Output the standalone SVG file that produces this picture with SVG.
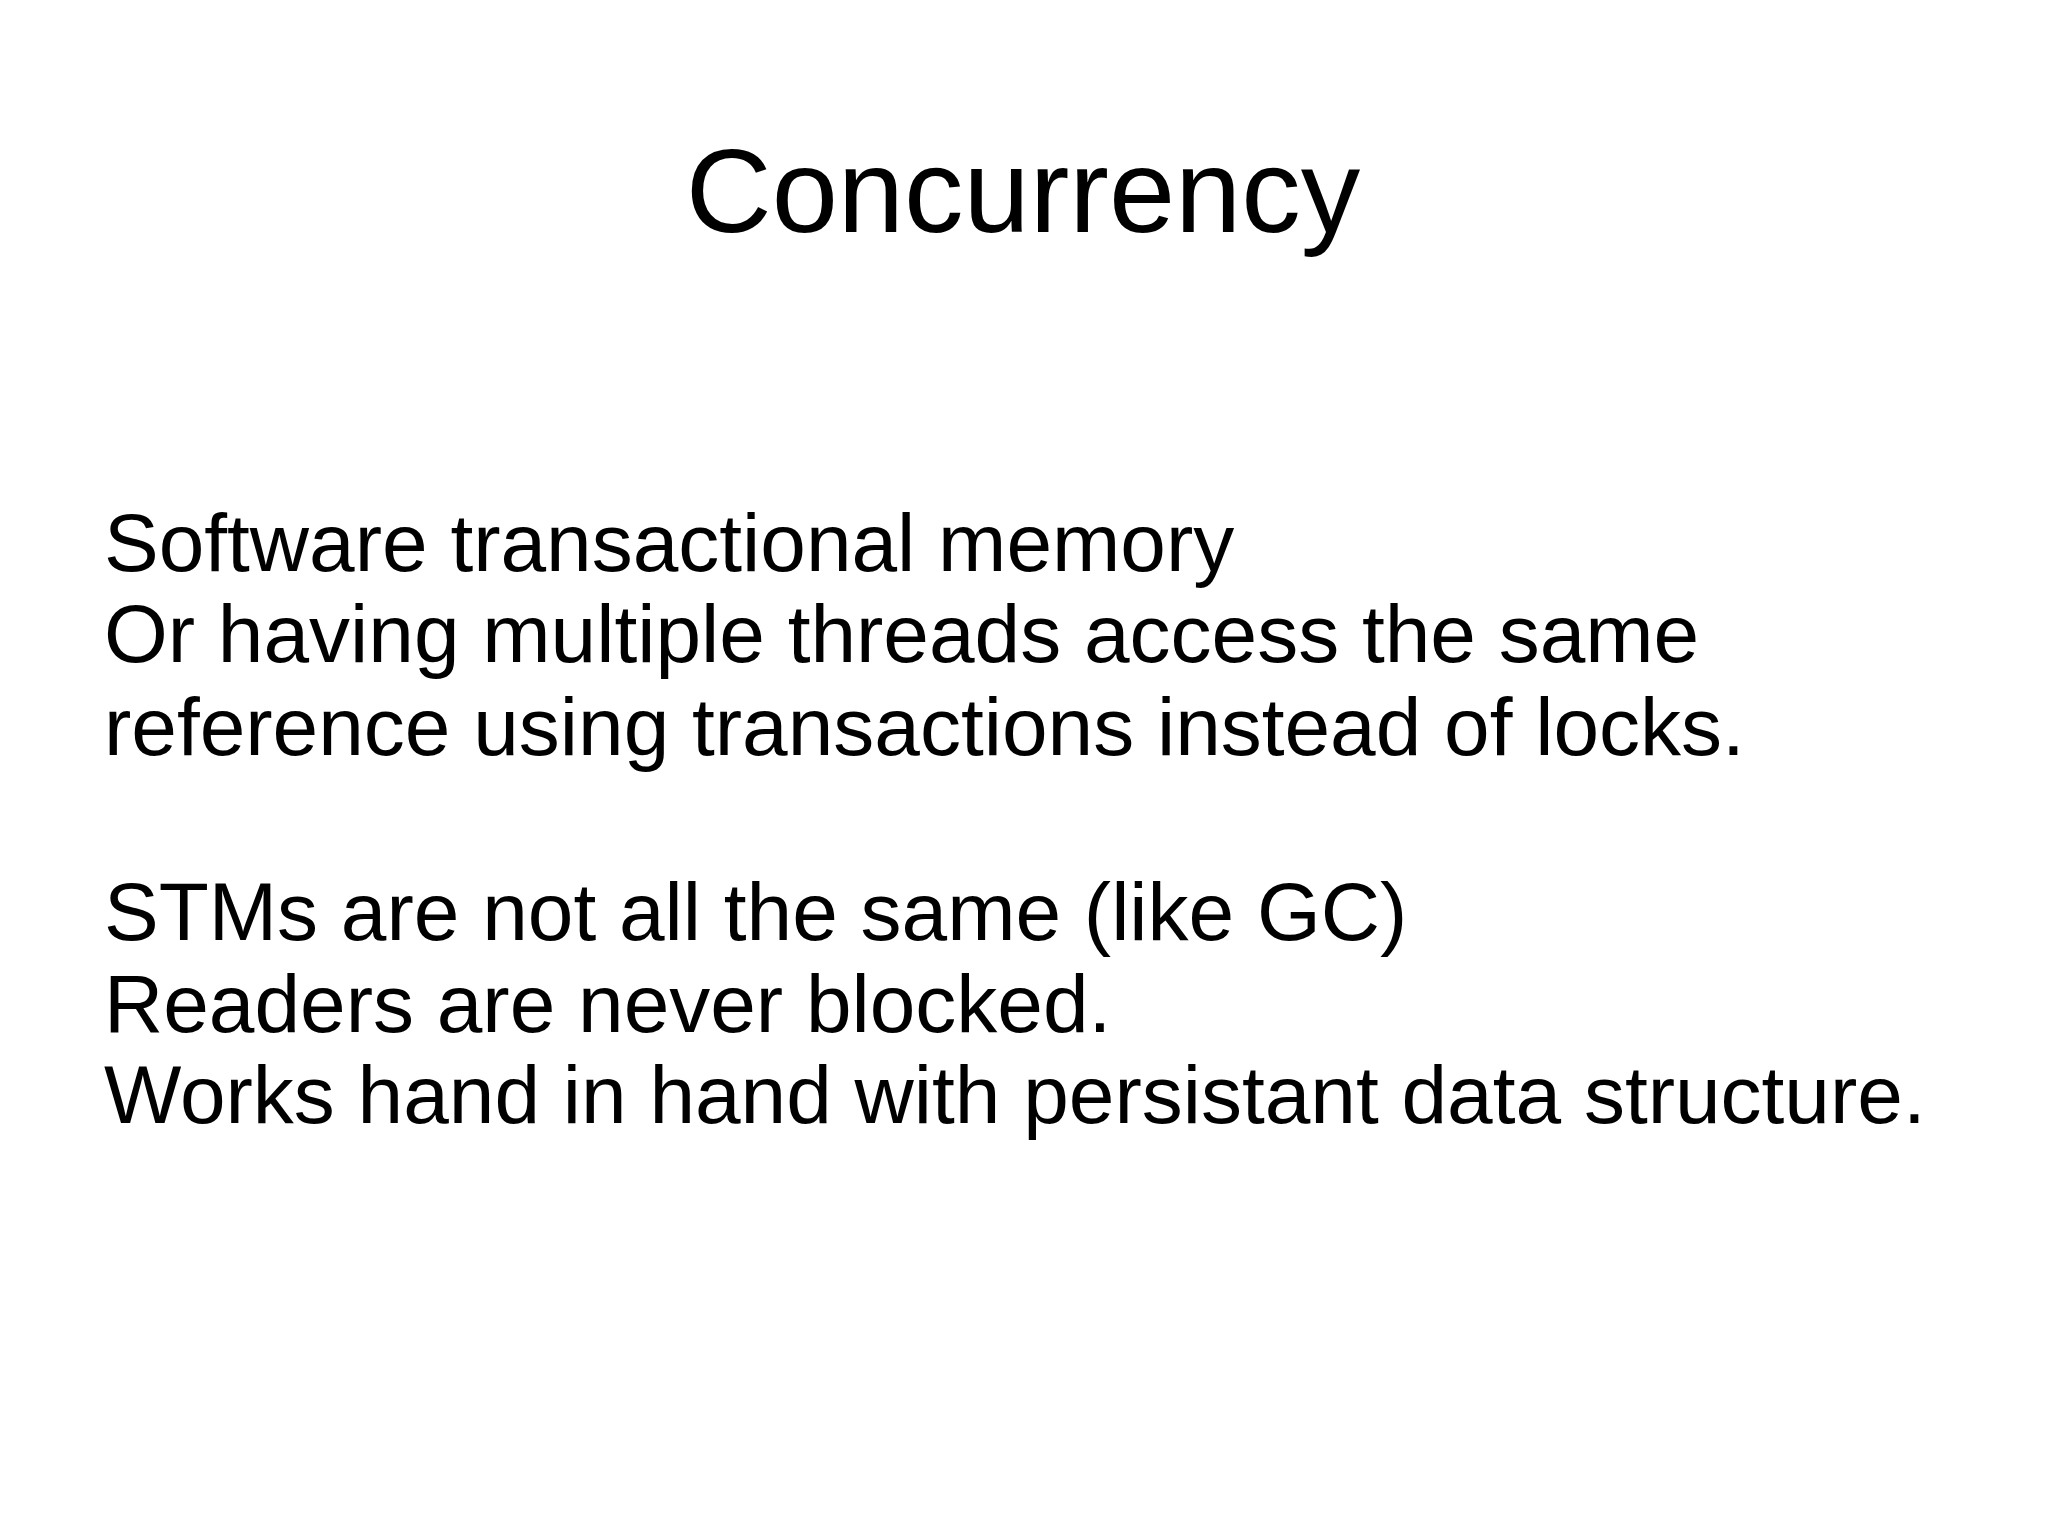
<svg xmlns="http://www.w3.org/2000/svg" width="2048" height="1535" viewBox="0 0 2048 1535">
<style>
text{font-family:"Liberation Sans",Arial,sans-serif;fill:#000}
.b{font-size:82px}
</style>
<rect width="2048" height="1535" fill="#fff"/>
<g id="title"><text x="1023" y="232" font-size="119" text-anchor="middle">Concurrency</text></g>
<g id="body" class="b">
<text class="b" x="104" y="571">Software transactional memory</text>
<text class="b" x="104" y="662">Or having multiple threads access the same</text>
<text class="b" x="104" y="755">reference using transactions instead of locks.</text>
<text class="b" x="104" y="940">STMs are not all the same (like GC)</text>
<text class="b" x="104" y="1032">Readers are never blocked.</text>
<text class="b" x="104" y="1123">Works hand in hand with persistant data structure.</text>
</g>
</svg>
